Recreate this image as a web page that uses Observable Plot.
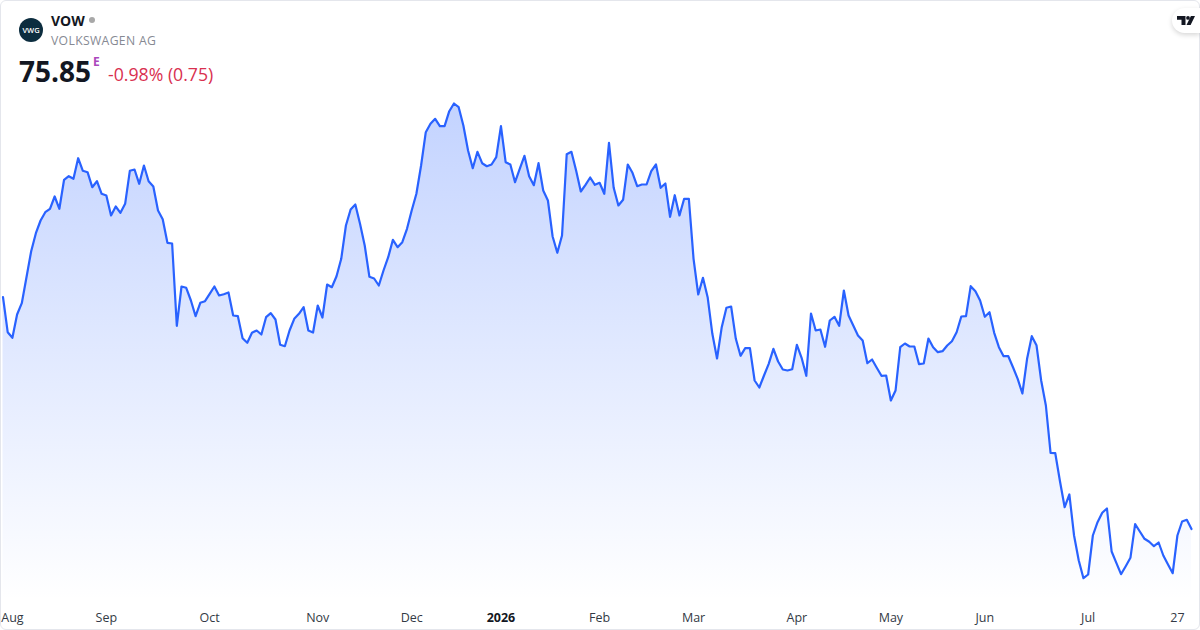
<!DOCTYPE html>
<html>
<head>
<meta charset="utf-8">
<script src="https://cdn.jsdelivr.net/npm/d3@7"></script>
<script src="https://cdn.jsdelivr.net/npm/@observablehq/plot@0.6"></script>
<style>
html,body{margin:0;padding:0;background:#fff;width:1200px;height:630px;overflow:hidden;font-family:"Open Sans",sans-serif}
#card{position:absolute;left:0;top:0;width:1200px;height:630px;box-sizing:border-box;border:1px solid #e4e6ec;border-radius:6px;overflow:hidden}
#chart{position:absolute;left:0;top:0}
#chart svg{display:block;background:transparent}
.t{position:absolute;white-space:nowrap;line-height:1}
#logo{position:absolute;left:1172px;top:8px;width:28px;height:25px;background:#fff;border-radius:13px 0 0 13px;box-shadow:0 2px 5px rgba(0,0,0,.16)}
#logo svg{position:absolute;left:5px;top:8px;overflow:visible}
</style>
</head>
<body>
<div id="chart"></div>
<div id="card"></div>
<svg class="t" style="left:19px;top:18px" width="24" height="24"><circle cx="12" cy="12" r="12" fill="#0c2d3f"/><text x="12" y="14.8" text-anchor="middle" font-family="Open Sans" font-weight="600" font-size="7.5" fill="#fff">VWG</text></svg>
<div class="t" style="left:51px;top:14px;font-size:14px;font-weight:700;color:#131722">VOW</div>
<div class="t" style="left:89px;top:17px;width:6px;height:6px;border-radius:50%;background:#a8a8a8"></div>
<div class="t" style="left:51px;top:35px;font-size:12.2px;color:#868993;letter-spacing:.35px">VOLKSWAGEN AG</div>
<div class="t" style="left:19px;top:57px;font-size:28px;font-weight:700;color:#131722">75.85</div>
<div class="t" style="left:93px;top:56px;font-size:12px;font-weight:700;color:#ab47bc">E</div>
<div class="t" style="left:108px;top:66px;font-size:17.7px;color:#d9304f">-0.98% (0.75)</div>
<div id="logo"><svg width="18" height="10" viewBox="0 0 18 10"><path d="M0 0h8.5v9H4.5V3.8H0zM18 0l-4.4 9H9.5L13.9 0z" fill="#131722"/><circle cx="11" cy="1.9" r="1.9" fill="#131722"/></svg></div>
<script>
const closes = [
99.03,95.53,94.97,97.3,98.43,101.03,103.63,105.43,106.7,107.53,
107.87,109.1,107.87,110.77,111.13,110.87,112.93,111.67,111.53,110.03,
110.63,109.37,109.2,107.2,108.1,107.47,108.37,111.67,111.8,110.37,
112.2,110.63,110.1,107.7,106.83,104.47,104.4,96.17,100.1,99.97,
98.7,97.13,98.47,98.63,99.37,100.1,99.2,99.33,99.5,97.2,
97.13,94.93,94.47,95.47,95.7,95.3,97.03,97.43,96.8,94.27,
94.13,95.7,96.87,97.37,98.03,95.7,95.5,98.2,97.0,100.3,
100.03,101.13,102.87,106.2,107.8,108.3,106.37,104.2,101.07,100.9,
100.2,101.7,103.03,104.77,104.03,104.53,105.87,107.7,109.37,112.2,
115.53,116.37,116.87,116.13,116.13,117.63,118.4,118.03,116.2,113.7,
111.93,113.57,112.43,112.13,112.3,113.03,116.13,112.53,112.3,110.53,
111.87,113.17,111.13,110.23,112.43,109.7,108.7,105.1,103.47,105.2,
113.33,113.57,111.7,109.6,110.27,111.0,110.27,110.47,109.37,114.47,
109.97,108.2,108.77,112.3,111.47,110.13,110.3,110.3,111.63,112.3,
109.97,110.4,107.07,109.23,107.2,108.87,108.87,102.87,99.3,100.97,
99.03,95.37,92.9,96.03,97.97,98.1,94.87,93.17,93.93,93.93,
90.7,90.0,91.2,92.37,93.87,92.6,91.8,91.7,91.83,94.27,
92.97,91.17,97.4,95.7,95.8,94.07,96.7,97.07,96.17,99.7,
97.2,96.2,95.2,94.7,92.43,92.8,91.97,91.17,91.2,88.7,
89.7,94.03,94.4,94.1,94.1,92.33,92.4,94.9,94.03,93.53,
93.63,94.2,94.63,95.53,97.1,97.13,100.13,99.63,98.7,97.07,
97.53,95.47,94.03,93.13,93.13,92.03,90.87,89.4,92.87,95.13,
94.23,90.7,88.2,83.47,83.43,80.63,78.03,79.3,75.2,72.7,
70.93,71.3,75.2,76.53,77.47,77.9,73.6,72.47,71.33,72.13,
72.97,76.33,75.6,74.87,74.57,74.13,74.5,73.2,72.3,71.43,
75.2,76.6,76.77,75.85
];
const sessions = closes.map((_, i) => i);
const monthTicks = [2, 22, 44, 67, 87, 127, 147, 169, 189, 209, 231, 250];
const monthLabels = ["Aug","Sep","Oct","Nov","Dec","Feb","Mar","Apr","May","Jun","Jul","27"];
const yearTicks = [106];
const yearLabels = ["2026"];
const priceDomain = [68.7, 128.7];

const lookup = (ticks, labels) => d => labels[ticks.indexOf(d)];
const gradient = () => {
  const s = d3.create("svg:defs");
  const g = s.append("linearGradient").attr("id","fillGrad").attr("x1",0).attr("x2",0).attr("y1",0).attr("y2",1);
  g.append("stop").attr("offset","0%").attr("stop-color","#2962ff").attr("stop-opacity",0.28);
  g.append("stop").attr("offset","100%").attr("stop-color","#2962ff").attr("stop-opacity",0);
  return s.node();
};
const chart = Plot.plot({
  width: 1200, height: 630,
  marginTop: 0, marginBottom: 30, marginLeft: 2.5, marginRight: 9,
  style: {background:"transparent", fontFamily:"'Open Sans',sans-serif"},
  x: {type:"linear", domain:[0, closes.length-1], axis:null},
  y: {domain: priceDomain, axis:null},
  marks: [
    gradient,
    Plot.areaY(sessions, {x:d=>d, y1:priceDomain[0], y2:d=>closes[d], fill:"url(#fillGrad)", curve:"linear"}),
    Plot.lineY(sessions, {x:d=>d, y:d=>closes[d], stroke:"#2962ff", strokeWidth:2.2, curve:"linear"}),
    Plot.axisX({ticks:monthTicks, tickFormat:lookup(monthTicks,monthLabels), tickSize:0, tickPadding:13, fontSize:12.5, fill:"#333a45", label:null}),
    Plot.axisX({ticks:yearTicks, tickFormat:lookup(yearTicks,yearLabels), tickSize:0, tickPadding:13, fontSize:12.5, fontWeight:700, fill:"#131722", label:null})
  ]
});
document.getElementById("chart").append(chart);
</script>
</body>
</html>
